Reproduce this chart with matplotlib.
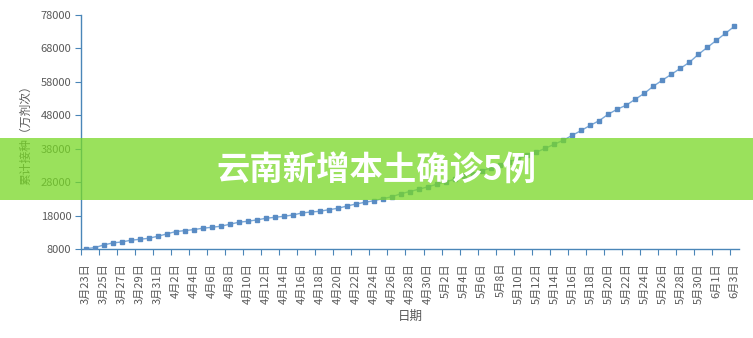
import matplotlib.pyplot as plt
import pandas as pd
from matplotlib.patches import Rectangle

plt.rcParams["font.family"] = ["Noto Sans CJK SC", "DejaVu Sans"]

# daily categories, 3/23 .. 6/3
dates = pd.date_range("2021-03-23", "2021-06-03", freq="D")
date_labels = [f"{d.month}月{d.day}日" for d in dates]

# cumulative doses (万剂次)
doses = [
    8100, 8390, 9200, 9800, 10100, 10600, 10900, 11200, 11800, 12500,
    13200, 13500, 13800, 14200, 14500, 14800, 15400, 16000, 16300, 16700,
    17180, 17480, 17780, 18170, 18770, 19070, 19280, 19760, 20170, 20860,
    21460, 21970, 22450, 23050, 23640, 24540, 25200, 25900, 26600, 27400,
    28100, 28900, 29700, 30500, 31400, 32300, 33200, 34100, 35000, 36000,
    36930, 38120, 39320, 40520, 42010, 43450, 45000, 46400, 48330, 49830,
    51030, 52820, 54570, 56700, 58500, 60260, 62050, 63850, 66240, 68340,
    70430, 72540, 74620,
]

y_ticks = [8000, 18000, 28000, 38000, 48000, 58000, 68000, 78000]
title = "云南新增本土确诊5例"

W, H = 753, 338
fig = plt.figure(figsize=(W / 100, H / 100), dpi=100)
ax = fig.add_axes([81 / W, (H - 249) / H, (739 - 81) / W, (249 - 15) / H])

x = list(range(len(doses)))
ax.plot(x, doses, color="#7aa8d8", lw=1.0, marker="s", ms=2.2,
        mfc="#5a8cc4", mec="#5a8cc4", zorder=3)

ax.set_xlim(-0.5, len(doses) - 0.5)
ax.set_ylim(y_ticks[0], y_ticks[-1])
ax.set_yticks(y_ticks)
ax.set_yticklabels([str(v) for v in y_ticks])

ax.set_xticks(x[::2])
ax.set_xticklabels(date_labels[::2], rotation=90, va="top")
ax.set_xticks([i - 0.5 for i in x[::2]], minor=True)
ax.tick_params(axis="x", which="major", length=0, pad=10, labelsize=8, labelcolor="#595959")
ax.tick_params(axis="x", which="minor", length=4, color="#4a86b8", width=0.8)
ax.tick_params(axis="y", length=4, color="#4a86b8", width=0.8, labelsize=8,
               labelcolor="#595959", pad=3)

for side in ["top", "right"]:
    ax.spines[side].set_visible(False)
for side in ["left", "bottom"]:
    ax.spines[side].set_color("#4a86b8")
    ax.spines[side].set_linewidth(1.0)

ax.set_xlabel("日期", fontsize=9, color="#595959", labelpad=4)
ax.set_ylabel("累计接种（万剂次）", fontsize=8.5, color="#595959", labelpad=6)

# green title banner across the picture
fig.patches.append(Rectangle((0, (H - 200) / H), 1, 62 / H, transform=fig.transFigure,
                             facecolor="#78d826", alpha=0.75, lw=0, zorder=10))
fig.text(0.5, (H - 170) / H, title, ha="center", va="center", fontsize=24,
         fontweight="bold", color="white", zorder=11)

fig.savefig("out.png", dpi=100)
